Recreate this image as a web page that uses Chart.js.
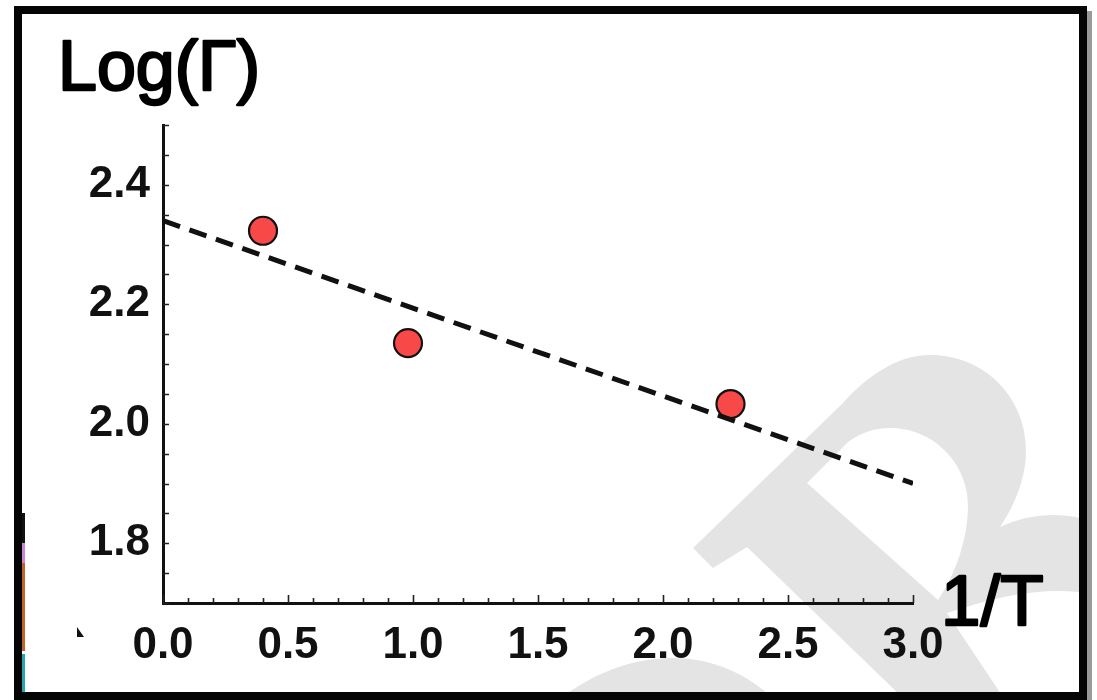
<!DOCTYPE html>
<html>
<head>
<meta charset="utf-8">
<script src="https://cdn.jsdelivr.net/npm/chart.js@4.4.1/dist/chart.umd.min.js"></script>
<style>
  html, body { margin: 0; padding: 0; background: #fff; }
  canvas { display: block; }
</style>
</head>
<body>
<canvas id="arrhenius" width="1097" height="700"></canvas>
<script>
  // measured points: 1/T against Log(Γ)
  const invT = [0.40, 0.98, 2.27];
  const logGamma = [2.323, 2.135, 2.033];

  // fitted straight line, evaluated at both ends of the x range
  const fitX = [0.0, 3.0];
  const fitY = [2.34, 1.90];

  const xRange = [0.0, 3.0];
  const yRange = [1.7, 2.5];
  const xStep = 0.1, xLabelEvery = 0.5;
  const yStep = 0.05, yLabelEvery = 0.2;

  const yTitle = "Log(Γ)";
  const xTitle = "1/T";

  const FONT = "'Liberation Sans', Arial, Helvetica, sans-serif";

  function onGrid(v, step){
    const q = v / step;
    return Math.abs(q - Math.round(q)) < 1e-6;
  }

  function drawWatermark(ctx){
    ctx.save();
    ctx.beginPath();
    ctx.rect(22, 14, 1057, 678);
    ctx.clip();
    ctx.fillStyle = "#e4e4e4";

    // letter body with its open bowl
    ctx.beginPath();
    ctx.moveTo(693, 548);
    ctx.lineTo(842, 404);
    ctx.bezierCurveTo(868, 375, 898, 355, 930, 355);
    ctx.bezierCurveTo(985, 355, 1026, 398, 1026, 450);
    ctx.bezierCurveTo(1026, 478, 1015, 505, 1000, 527);
    ctx.bezierCurveTo(1025, 515, 1055, 512, 1080, 518);
    ctx.lineTo(1080, 592);
    ctx.bezierCurveTo(1040, 588, 1000, 595, 947, 613);
    ctx.lineTo(1005, 700);
    ctx.lineTo(905, 700);
    ctx.lineTo(747, 547);
    ctx.lineTo(713, 568);
    ctx.closePath();
    ctx.moveTo(807, 483);
    ctx.lineTo(848, 442);
    ctx.bezierCurveTo(862, 432, 875, 428, 890, 428);
    ctx.bezierCurveTo(935, 428, 968, 465, 968, 505);
    ctx.bezierCurveTo(968, 540, 955, 575, 938, 600);
    ctx.closePath();
    ctx.fill("evenodd");

    // arc along the bottom edge
    ctx.beginPath();
    ctx.moveTo(558, 700);
    ctx.bezierCurveTo(600, 668, 640, 658, 672, 658);
    ctx.bezierCurveTo(710, 658, 745, 672, 775, 700);
    ctx.closePath();
    ctx.fill();
    ctx.restore();
  }

  const backdrop = {
    id: "backdrop",
    beforeDraw(chart){
      const ctx = chart.ctx;
      ctx.save();
      ctx.fillStyle = "#fff";
      ctx.fillRect(0, 0, chart.width, chart.height);
      ctx.restore();
      drawWatermark(ctx);
    }
  };

  // inward tick marks, placed from the scales' own ticks
  const innerTicks = {
    id: "innerTicks",
    afterDraw(chart){
      const ctx = chart.ctx;
      const { x, y } = chart.scales;
      const area = chart.chartArea;
      ctx.save();
      ctx.strokeStyle = "#222";
      ctx.lineWidth = 1.6;
      ctx.beginPath();
      for (const t of y.ticks){
        const py = Math.round(y.getPixelForValue(t.value)) + 0.5;
        ctx.moveTo(area.left, py);
        ctx.lineTo(area.left + 6, py);
      }
      for (const t of x.ticks){
        const px = Math.round(x.getPixelForValue(t.value)) + 0.5;
        const len = onGrid(t.value, xLabelEvery) ? 8 : 5;
        ctx.moveTo(px, area.bottom);
        ctx.lineTo(px, area.bottom - len);
      }
      ctx.stroke();
      ctx.restore();
    }
  };

  // axis captions: regular face thickened with an outline
  function caption(ctx, text, x, y, size){
    ctx.save();
    ctx.font = size + "px " + FONT;
    ctx.lineWidth = 2.4;
    ctx.lineJoin = "round";
    ctx.strokeStyle = "#000";
    ctx.fillText(text, x, y);
    ctx.strokeText(text, x, y);
    ctx.restore();
  }

  const frameAndTitles = {
    id: "frameAndTitles",
    afterDraw(chart){
      const ctx = chart.ctx;
      ctx.save();
      ctx.fillStyle = "#000";
      ctx.textBaseline = "alphabetic";
      ctx.textAlign = "left";
      caption(ctx, yTitle, 58, 90, 70);
      caption(ctx, xTitle, 941, 625, 71);

      // slivers on the left inner edge
      ctx.fillStyle = "#111"; ctx.fillRect(22, 513, 3, 30);
      ctx.fillStyle = "#c886d8"; ctx.fillRect(22, 543, 3, 20);
      ctx.fillStyle = "#c0642c"; ctx.fillRect(22, 563, 3, 88);
      ctx.fillStyle = "#24a8b0"; ctx.fillRect(22, 654, 3, 38);
      ctx.fillStyle = "#111";
      ctx.beginPath();
      ctx.moveTo(77, 627); ctx.lineTo(84, 637); ctx.lineTo(77, 637);
      ctx.closePath(); ctx.fill();

      // outer frame with its grey drop shadow
      ctx.fillStyle = "#9a9a9a";
      ctx.fillRect(1087, 11, 5, 689);
      ctx.strokeStyle = "#050505";
      ctx.lineWidth = 8;
      ctx.strokeRect(18, 10, 1065, 686);
      ctx.restore();
    }
  };

  const fitPoints = fitX.map((v, i) => ({ x: v, y: fitY[i] }));
  const measured = invT.map((v, i) => ({ x: v, y: logGamma[i] }));

  new Chart(document.getElementById("arrhenius"), {
    type: "scatter",
    data: {
      datasets: [
        {
          type: "line",
          data: fitPoints,
          borderColor: "#111",
          borderWidth: 5,
          borderDash: [18, 10],
          pointRadius: 0,
          fill: false,
          tension: 0
        },
        {
          data: measured,
          backgroundColor: "#f94848",
          borderColor: "#111",
          borderWidth: 2.2,
          pointRadius: 14,
          pointHoverRadius: 14
        }
      ]
    },
    options: {
      responsive: false,
      animation: false,
      events: [],
      layout: { padding: { left: 0, top: 125, right: 184, bottom: 0 } },
      plugins: { legend: { display: false }, tooltip: { enabled: false } },
      scales: {
        x: {
          type: "linear",
          min: xRange[0], max: xRange[1],
          afterFit: s => { s.height = 97; },
          border: { display: true, color: "#111", width: 3 },
          grid: { drawOnChartArea: false, drawTicks: false },
          ticks: {
            stepSize: xStep,
            autoSkip: false,
            maxRotation: 0,
            padding: 16,
            color: "#111",
            font: { family: FONT, size: 44, weight: "bold" },
            callback: v => onGrid(v, xLabelEvery) ? Number(v).toFixed(1) : ""
          }
        },
        y: {
          type: "linear",
          min: yRange[0], max: yRange[1],
          afterFit: s => { s.width = 163; },
          border: { display: true, color: "#111", width: 3 },
          grid: { drawOnChartArea: false, drawTicks: false },
          ticks: {
            stepSize: yStep,
            autoSkip: false,
            padding: 13,
            color: "#111",
            font: { family: FONT, size: 44, weight: "bold" },
            callback: v => onGrid(v, yLabelEvery) ? Number(v).toFixed(1) : ""
          }
        }
      }
    },
    plugins: [backdrop, innerTicks, frameAndTitles]
  });
</script>
</body>
</html>
